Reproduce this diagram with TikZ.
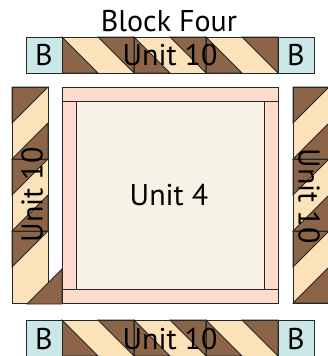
\documentclass[tikz,border=0pt]{standalone}
\usepackage{fontspec}
\setmainfont{PT Sans}
\usetikzlibrary{positioning}
\definecolor{qbrown}{HTML}{8C6549}
\definecolor{qtan}{HTML}{FCE2B8}
\definecolor{qblue}{HTML}{CBE8E9}
\definecolor{qpink}{HTML}{FDDCCD}
\definecolor{qcream}{HTML}{F6F2E6}

\begin{document}
\begin{tikzpicture}[x=1pt, y=-1pt,
    seam/.style={draw=black!85, line width=0.8pt},
    patch/.style={fill=#1, seam},
    lbl/.style={font=\fontsize{30}{30}\selectfont, text=black, inner sep=0pt},
]
    \useasboundingbox (0,0) rectangle (328,356);

    % top and bottom borders
    \foreach \ys in {37,320} {
        \foreach \i in {0,1,2} {
            \pgfmathsetmacro{\xa}{62+72*\i}
            \fill[qtan] (\xa,\ys) rectangle ++(72,36);
            \path[patch=qbrown] (\xa,\ys) -- ++(36,36) -- ++(-36,0) -- cycle;
            \path[patch=qbrown] (\xa+36,\ys) -- ++(36,0) -- ++(0,36) -- cycle;
            \draw[seam] (\xa,\ys) rectangle ++(72,36);
        }
        \path[patch=qblue] (26,\ys) rectangle ++(36,36);
        \path[patch=qblue] (278,\ys) rectangle ++(36,36);
    }

    % side borders
    \foreach \xs in {12,293} {
        \foreach \i in {0,1,2} {
            \pgfmathsetmacro{\ya}{87+72*\i}
            \fill[qtan] (\xs,\ya) rectangle ++(36,72);
            \path[patch=qbrown] (\xs,\ya) -- ++(36,0) -- ++(-36,36) -- cycle;
        }
    }
    \foreach \xs/\i in {12/0,12/1,293/0,293/1,293/2} {
        \pgfmathsetmacro{\ya}{87+72*\i}
        \path[patch=qbrown] (\xs+36,\ya+36) -- ++(0,36) -- ++(-36,0) -- cycle;
    }
    \foreach \xs in {12,293} {
        \foreach \i in {0,1,2} {
            \pgfmathsetmacro{\ya}{87+72*\i}
            \draw[seam] (\xs,\ya) rectangle ++(36,72);
        }
    }
    \path[patch=qbrown] (62,269) -- (62,304) -- (27,304) -- cycle;

    % centre block with frame
    \path[patch=qpink] (62,87) rectangle (278,303);
    \path[patch=qcream] (76,101) rectangle (264,289);
    \draw[seam] (62,101) -- (278,101) (62,289) -- (278,289);

    \node[lbl] (title) at (169,21) {Block Four};
    \node[lbl] (topB1) at (44,55) {B};
    \node[lbl] (topB2) at (296,55) {B};
    \node[lbl] (topunit) at (170,55) {Unit 10};
    \node[lbl] (botB1) at (44,339) {B};
    \node[lbl] (botB2) at (296,339) {B};
    \node[lbl] (botunit) at (170,339) {Unit 10};
    \node[lbl, rotate=90] (leftunit) at (32,195) {Unit 10};
    \node[lbl, rotate=-90] (rightunit) at (309,196) {Unit 10};
    \node[lbl] (centre) at (169,195) {Unit 4};
\end{tikzpicture}
\end{document}
